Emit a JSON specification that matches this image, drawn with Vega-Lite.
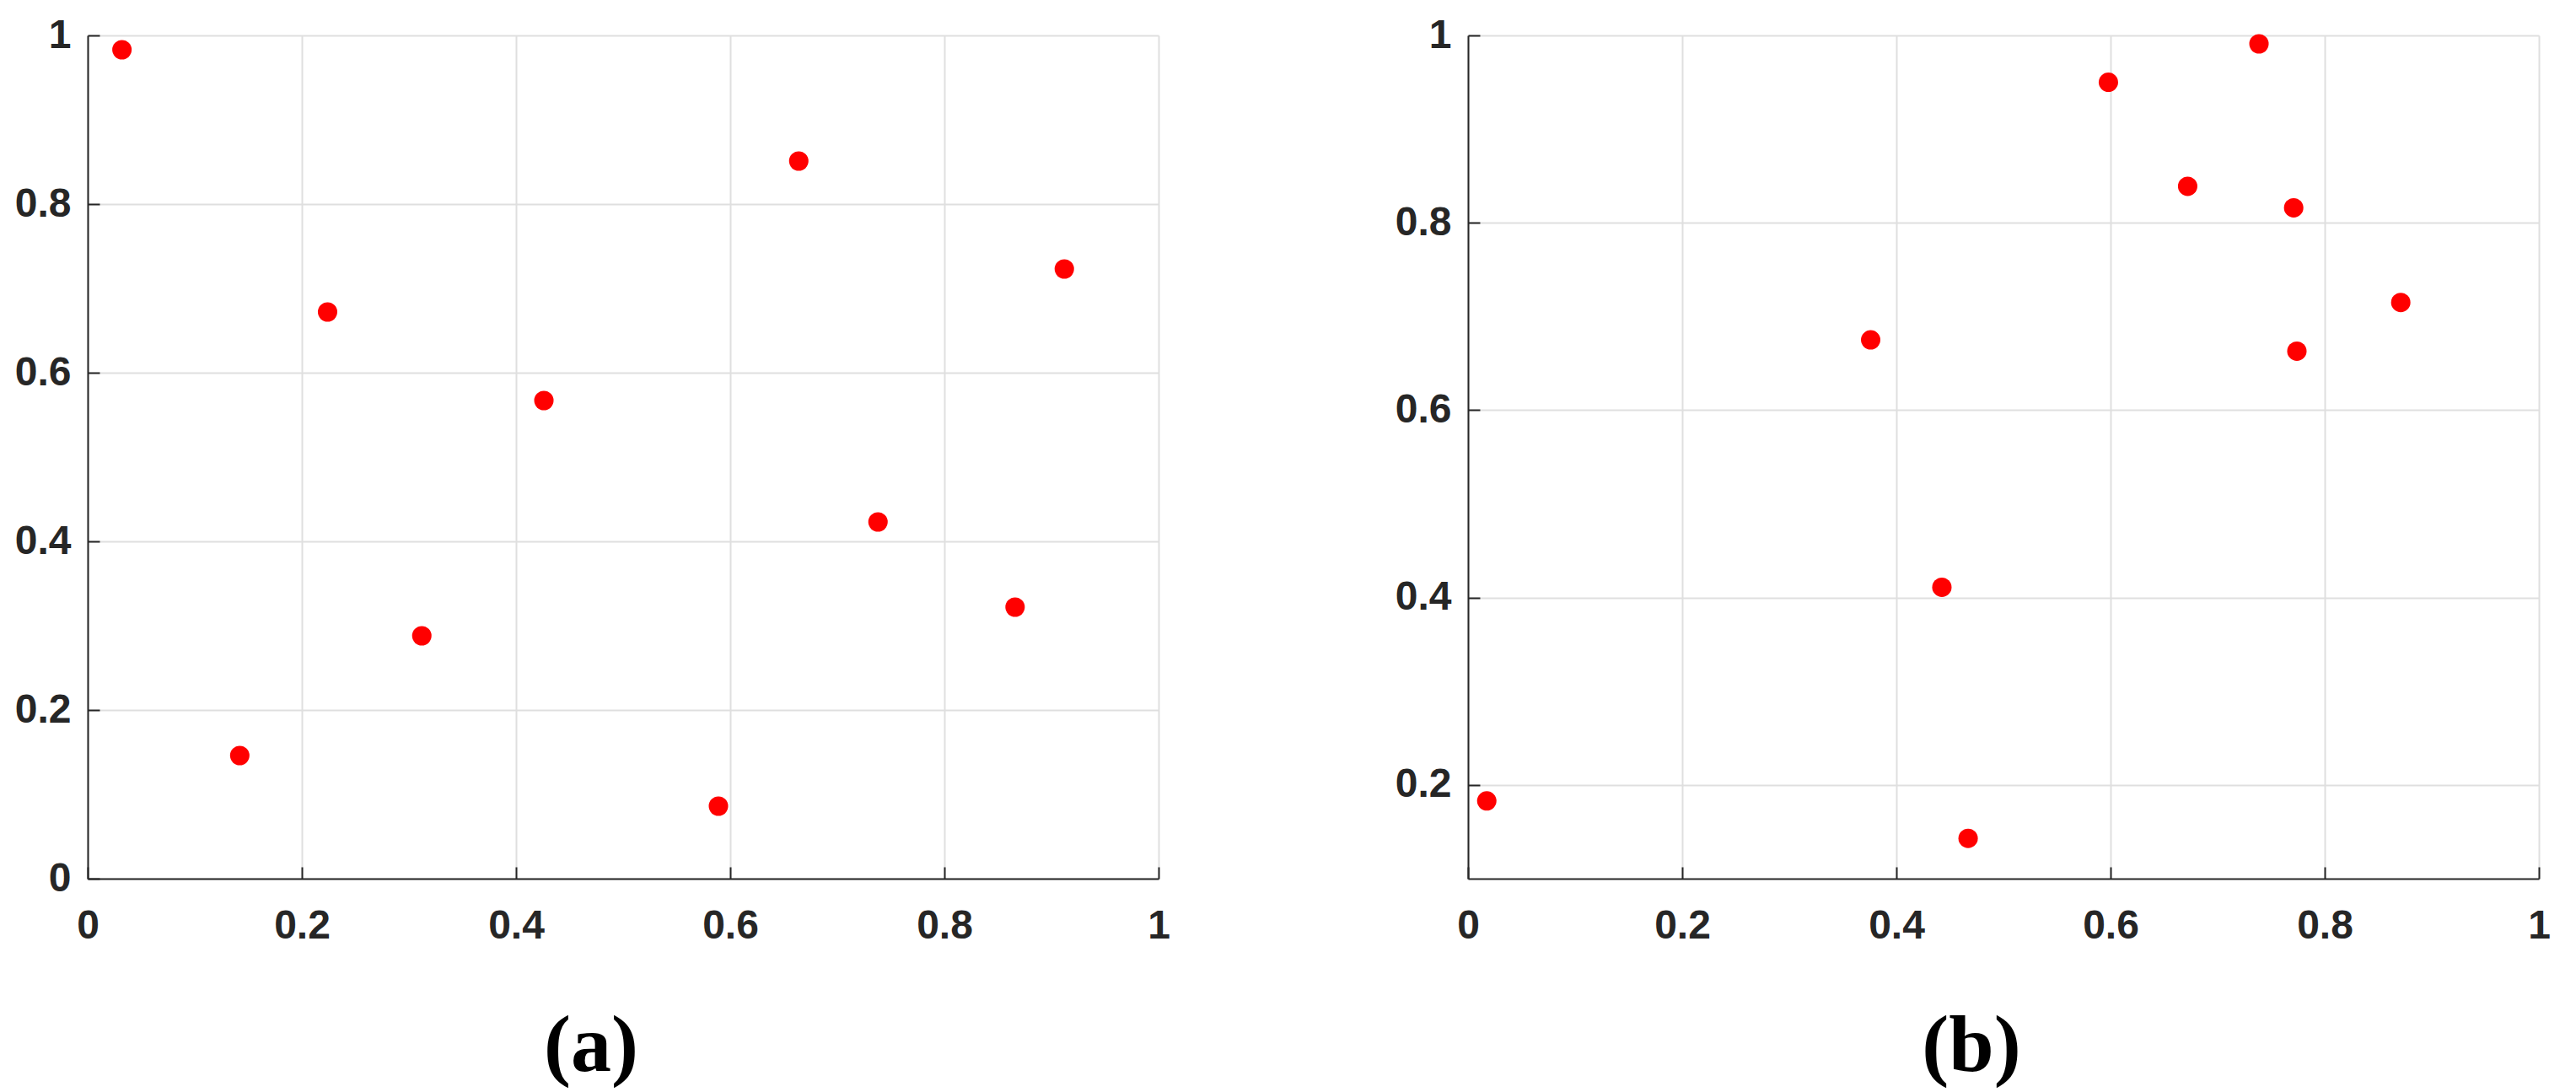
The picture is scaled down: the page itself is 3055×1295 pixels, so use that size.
{
  "$schema": "https://vega.github.io/schema/vega-lite/v6.json",
  "background": "white",
  "padding": {"left": 17, "top": 18, "right": 20, "bottom": 10},
  "datasets": {
    "a": [
      {"x": 0.032, "y": 0.983},
      {"x": 0.142, "y": 0.146},
      {"x": 0.224, "y": 0.672},
      {"x": 0.312, "y": 0.288},
      {"x": 0.426, "y": 0.567},
      {"x": 0.589, "y": 0.086},
      {"x": 0.664, "y": 0.851},
      {"x": 0.738, "y": 0.423},
      {"x": 0.866, "y": 0.322},
      {"x": 0.912, "y": 0.723}
    ],
    "b": [
      {"x": 0.0175, "y": 0.183},
      {"x": 0.376, "y": 0.675},
      {"x": 0.4425, "y": 0.411},
      {"x": 0.467, "y": 0.143},
      {"x": 0.598, "y": 0.95},
      {"x": 0.672, "y": 0.839},
      {"x": 0.7386, "y": 0.991},
      {"x": 0.771, "y": 0.816},
      {"x": 0.774, "y": 0.663},
      {"x": 0.871, "y": 0.715}
    ]
  },
  "config": {
    "view": {"stroke": null},
    "axis": {
      "domainColor": "#262626",
      "domainWidth": 2,
      "tickColor": "#262626",
      "tickWidth": 2,
      "tickSize": -14,
      "gridColor": "#dfdfdf",
      "gridWidth": 2,
      "labelFont": "Liberation Sans Narrow, Liberation Sans, Arial, sans-serif",
      "labelFontWeight": "bold",
      "labelFontSize": 48,
      "labelColor": "#262626",
      "labelFlush": false,
      "labelOverlap": false,
      "format": "~g",
      "title": null
    },
    "axisX": {"labelPadding": 46},
    "axisY": {"labelPadding": 34},
    "title": {
      "orient": "bottom",
      "anchor": "middle",
      "frame": "group",
      "font": "Liberation Serif, DejaVu Serif, serif",
      "fontSize": 96,
      "fontWeight": "bold",
      "color": "#000000",
      "dx": -38,
      "offset": 72
    }
  },
  "hconcat": [
    {
      "title": "(a)",
      "width": 1270,
      "height": 1000,
      "data": {"name": "a"},
      "mark": {"type": "circle", "size": 530, "color": "#ff0000", "opacity": 1},
      "encoding": {
        "x": {"field": "x", "type": "quantitative", "scale": {"domain": [0, 1], "nice": false, "zero": false}, "axis": {"values": [0, 0.2, 0.4, 0.6, 0.8, 1]}},
        "y": {"field": "y", "type": "quantitative", "scale": {"domain": [0, 1], "nice": false, "zero": false}, "axis": {"values": [0, 0.2, 0.4, 0.6, 0.8, 1]}}
      }
    },
    {
      "title": "(b)",
      "width": 1270,
      "height": 1000,
      "data": {"name": "b"},
      "mark": {"type": "circle", "size": 530, "color": "#ff0000", "opacity": 1},
      "encoding": {
        "x": {"field": "x", "type": "quantitative", "scale": {"domain": [0, 1], "nice": false, "zero": false}, "axis": {"values": [0, 0.2, 0.4, 0.6, 0.8, 1]}},
        "y": {"field": "y", "type": "quantitative", "scale": {"domain": [0.1, 1], "nice": false, "zero": false}, "axis": {"values": [0.2, 0.4, 0.6, 0.8, 1]}}
      }
    }
  ],
  "spacing": 367,
  "bounds": "flush"
}
